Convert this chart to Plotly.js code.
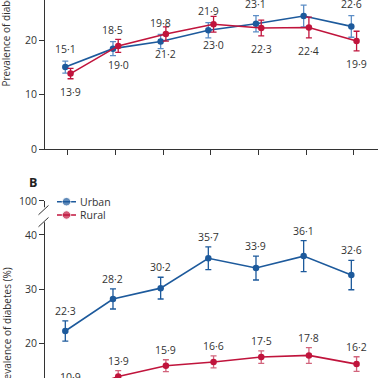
<!DOCTYPE html>
<html>
<head>
<meta charset="utf-8">
<script src="https://cdn.plot.ly/plotly-3.0.1.min.js"></script>
<style>
html,body{margin:0;padding:0;background:#fff;}
body{width:378px;height:378px;overflow:hidden;position:relative;}
#chart{position:absolute;left:0;top:-130px;width:405px;height:612px;}
</style>
</head>
<body>
<div id="chart"></div>
<script>
// ---- data ----
const seriesNames = ['Urban', 'Rural'];
const waveIndex = [0, 1, 2, 3, 4, 5, 6];

// Panel A
const urbanA    = [15.1, 18.5, 19.8, 21.9, 23.1, 24.5, 22.6];
const urbanAErr = [1.1, 1.3, 1.3, 1.4, 1.5, 2.0, 2.0];
const ruralA    = [13.9, 19.0, 21.2, 23.0, 22.3, 22.4, 19.9];
const ruralAErr = [0.95, 1.2, 1.3, 1.45, 1.45, 1.9, 1.8];

// Panel B
const urbanB    = [22.3, 28.2, 30.2, 35.7, 33.9, 36.1, 32.6];
const urbanBErr = [1.85, 1.85, 2.0, 2.1, 2.2, 2.85, 2.7];
const ruralB    = [10.9, 13.9, 15.9, 16.6, 17.5, 17.8, 16.2];
const ruralBErr = [1.0, 1.1, 1.1, 1.1, 1.15, 1.45, 1.35];

// axis with a break: "100" drawn just above 40
const yTickVals = [0, 10, 20, 30, 40, 46.26];
const yTickText = ['0', '10', '20', '30', '40', '100'];
const panelLabel = 'B';
const yTitle = 'Prevalence of diabetes (%)';

// ---- styling ----
const BLUE = '#1d5a9c', RED = '#c0143c';
const BLUE_LIGHT = '#5d8ec6', RED_LIGHT = '#d2647c';
const TXT = '#333333', AX = '#333333';
const FONT = 'Open Sans, Noto Sans, sans-serif';
const urbanOff = -0.05, ruralOff = 0.06;

const fmt = v => v.toFixed(1).replace('.', '\u00B7');
const shift = (arr, d) => arr.map(i => i + d);

function series(x, y, err, color, errColor, xa, ya) {
  return {
    type: 'scatter', mode: 'lines+markers', x: x, y: y,
    xaxis: xa, yaxis: ya, showlegend: false, cliponaxis: false,
    line: {color: color, width: 1.6},
    marker: {color: color, size: 6.5},
    error_y: {type: 'data', array: err, visible: true, color: errColor, thickness: 1.3, width: 3}
  };
}

const traces = [
  series(shift(waveIndex, urbanOff), urbanA, urbanAErr, BLUE, BLUE_LIGHT, 'x', 'y'),
  series(shift(waveIndex, ruralOff), ruralA, ruralAErr, RED, RED, 'x', 'y'),
  series(shift(waveIndex, urbanOff), urbanB, urbanBErr, BLUE, BLUE, 'x2', 'y2'),
  series(shift(waveIndex, ruralOff), ruralB, ruralBErr, RED, RED_LIGHT, 'x2', 'y2')
];

// manual legend on its own small axis pair
const legendColors = [BLUE, RED];
const legendRows = [1, 0];
seriesNames.forEach((n, k) => {
  traces.push({
    type: 'scatter', mode: 'lines+markers', x: [0, 0.5, 1], y: [legendRows[k], legendRows[k], legendRows[k]],
    xaxis: 'x3', yaxis: 'y3', showlegend: false, hoverinfo: 'skip', cliponaxis: false,
    line: {color: legendColors[k], width: 1.6},
    marker: {color: legendColors[k], size: [0, 8.5, 0]}
  });
});

const annotations = [];
function labels(x, y, err, xa, ya, above, yshift) {
  x.forEach((xi, i) => {
    annotations.push({
      xref: xa, yref: ya, x: xi, y: above ? y[i] + err[i] : y[i] - err[i],
      text: fmt(y[i]), showarrow: false, xanchor: 'center',
      yanchor: above ? 'bottom' : 'top', yshift: yshift,
      font: {family: FONT, size: 10.5, color: TXT}
    });
  });
}
labels(shift(waveIndex, urbanOff), urbanA, urbanAErr, 'x', 'y', true, 3);
labels(shift(waveIndex, ruralOff), ruralA, ruralAErr, 'x', 'y', false, -4);
labels(shift(waveIndex, urbanOff), urbanB, urbanBErr, 'x2', 'y2', true, 1);
labels(shift(waveIndex, ruralOff), ruralB, ruralBErr, 'x2', 'y2', true, 1);

seriesNames.forEach((n, k) => {
  annotations.push({
    xref: 'x3', yref: 'y3', x: 1, y: legendRows[k], xshift: 2, text: n, showarrow: false,
    xanchor: 'left', yanchor: 'middle', font: {family: FONT, size: 10.5, color: TXT}
  });
});

['y', 'y2'].forEach(ya => {
  annotations.push({
    xref: 'paper', yref: ya + ' domain', x: -0.11, y: 0.5, yshift: -2.5, textangle: -90,
    text: yTitle, showarrow: false, xanchor: 'center', yanchor: 'middle',
    font: {family: FONT, size: 10, color: TXT}
  });
});
annotations.push({
  xref: 'paper', yref: 'paper', x: -0.0351, y: 0.4866, text: '<b>' + panelLabel + '</b>',
  showarrow: false, xanchor: 'center', yanchor: 'middle',
  font: {family: FONT, size: 12.5, color: '#222'}
});

// axis break marks
const shapes = [];
['y', 'y2'].forEach(ya => {
  const base = {xref: 'paper', yref: ya, xsizemode: 'pixel', ysizemode: 'pixel', xanchor: 0, yanchor: 43.72, layer: 'above'};
  shapes.push(Object.assign({}, base, {type: 'rect', x0: -2.5, x1: 2.5, y0: -7.5, y1: 7.5, fillcolor: '#ffffff', line: {width: 0}}));
  shapes.push(Object.assign({}, base, {type: 'line', x0: -6.5, x1: 3.5, y0: 0, y1: 9.3, line: {color: AX, width: 1}}));
  shapes.push(Object.assign({}, base, {type: 'line', x0: -6.5, x1: 3.5, y0: -12, y1: -2.7, line: {color: AX, width: 1}}));
});

const xRange = [-0.476, 6.866];
function xaxis(anchor, domainY) {
  return {
    anchor: anchor, domain: [0, 1], range: xRange, tickvals: waveIndex, showticklabels: false,
    ticks: 'outside', ticklen: 5, tickwidth: 1, tickcolor: AX, showline: true, linecolor: AX, linewidth: 1,
    showgrid: false, zeroline: false, fixedrange: true
  };
}
function yaxis(anchor, domain) {
  return {
    anchor: anchor, domain: domain, range: [0, 46.26], tickvals: yTickVals, ticktext: yTickText,
    ticks: 'outside', ticklen: 5, tickwidth: 1, tickcolor: AX, showline: true, linecolor: AX, linewidth: 1,
    showgrid: false, zeroline: false, tickfont: {family: FONT, size: 10.5, color: TXT}, fixedrange: true
  };
}

const layout = {
  width: 405, height: 612,
  margin: {l: 45, r: 10, t: 28, b: 30},
  paper_bgcolor: '#ffffff', plot_bgcolor: 'rgba(0,0,0,0)',
  showlegend: false,
  xaxis: xaxis('y'), yaxis: yaxis('x', [0.5469, 1]),
  xaxis2: xaxis('y2'), yaxis2: yaxis('x2', [0, 0.4531]),
  xaxis3: {anchor: 'y3', domain: [0.0234, 0.0994], range: [-0.2, 1.2], visible: false, fixedrange: true},
  yaxis3: {anchor: 'x3', domain: [0.4158, 0.4638], range: [-0.5, 1.5], visible: false, fixedrange: true},
  annotations: annotations,
  shapes: shapes
};

Plotly.newPlot('chart', traces, layout, {displayModeBar: false, staticPlot: true});
</script>
</body>
</html>
